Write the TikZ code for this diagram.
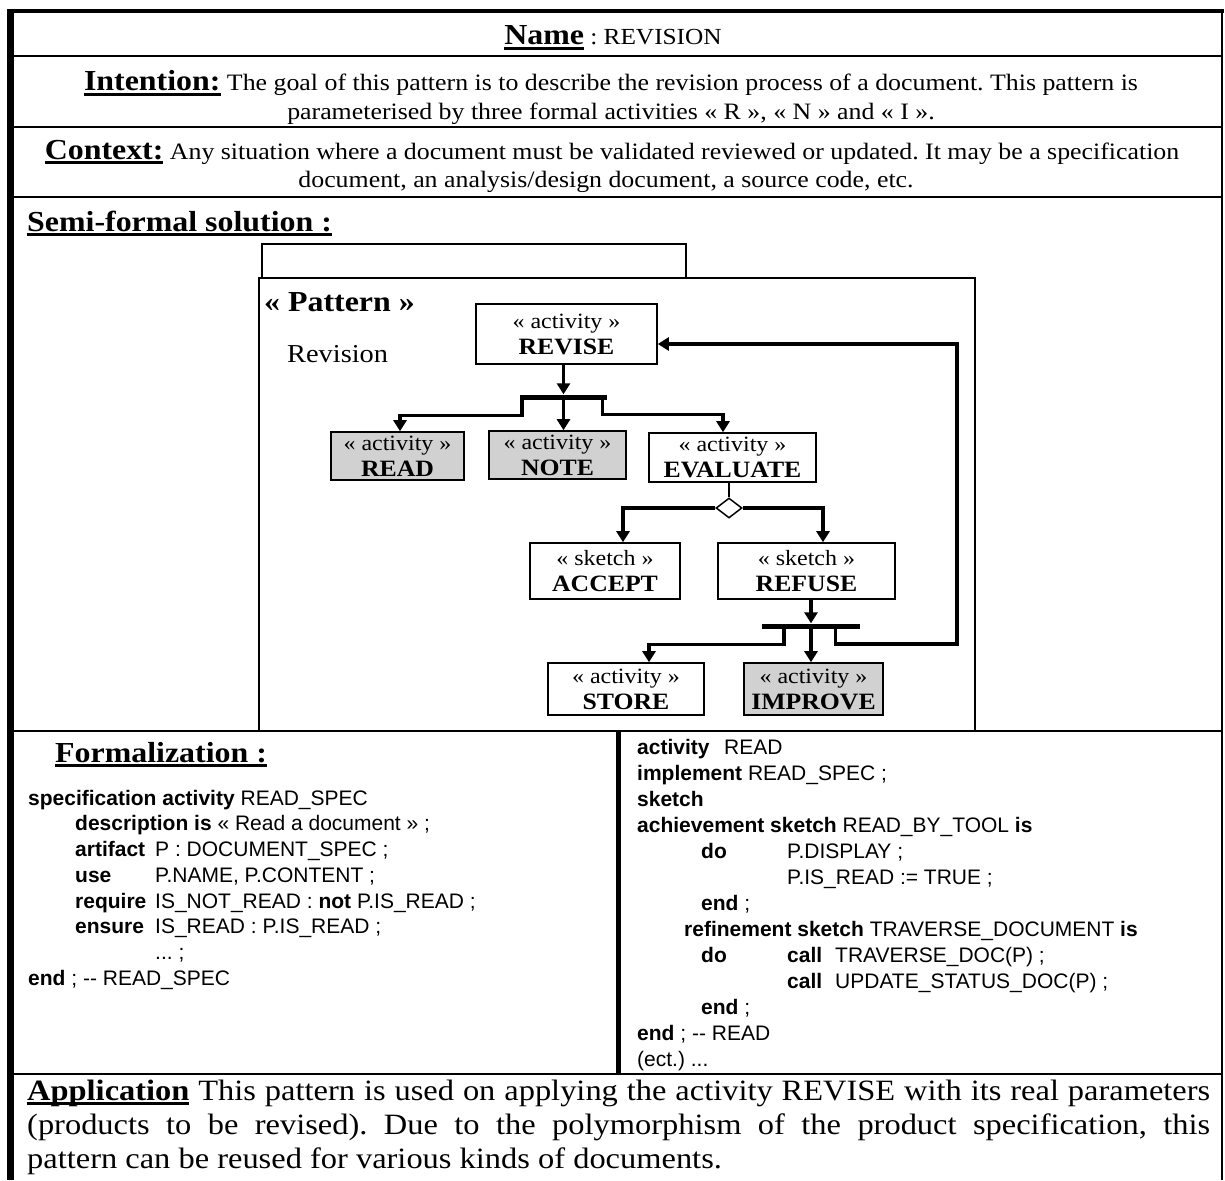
\documentclass[tikz,border=0pt]{standalone}
\usepackage{fontspec}
\setmainfont{Liberation Serif}[FakeStretch=1.1]
\newfontfamily\codefam{Liberation Sans}
\usetikzlibrary{arrows.meta,shapes.geometric}
\frenchspacing

% thick underline used for the section headings
\newcommand\headul[1]{\setbox0=\hbox{#1}\rlap{\rule[-5pt]{\wd0}{3pt}}\box0}
\newcommand\hdfont{\fontsize{29}{34}\selectfont\bfseries}
\newcommand\bdfont{\fontsize{23.5}{29}\selectfont}
\newcommand\apfont{\fontsize{29.5}{34}\selectfont}
\newcommand\cdfont{\codefam\fontsize{21}{26}\selectfont}
\newcommand\stfont{\fontsize{21.8}{26}\selectfont}
\newcommand\nmfont{\fontsize{23.4}{26}\selectfont\bfseries}

\tikzset{
  box/.style={draw, line width=1.6pt, inner sep=0pt, align=center, fill=white, font=\stfont},
  greybox/.style={box, fill=black!18},
  conn/.style={line width=3.4pt, -{Triangle[length=11pt,width=13pt]}},
  fbar/.style={fill=black, inner sep=0pt, minimum height=5pt},
  txt/.style={anchor=base west, inner sep=0pt},
  ctxt/.style={anchor=base, inner sep=0pt},
  code/.style={txt, font=\cdfont},
  sep/.style={line width=2pt},
}

\begin{document}
\begin{tikzpicture}[x=1pt,y=-1pt]
\useasboundingbox (0,0) rectangle (1225,1180);

% ---------- outer frame and row separators ----------
\draw[line width=7pt] (10.5,9.5) -- (10.5,1180);
\draw[line width=4pt] (7,11.5) -- (1223.5,11.5);
\draw[line width=2pt] (1222,10) -- (1222,1180);
\draw[sep] (10,56) -- (1222,56);
\draw[sep] (10,127) -- (1222,127);
\draw[sep] (10,197) -- (1222,197);
\draw[line width=2.6pt] (10,731) -- (1222,731);
\draw[sep] (10,1074) -- (1222,1074);
\draw[line width=5pt] (618,731) -- (618,1074);

% ---------- header rows ----------
\node[ctxt] (name) at (613,45) {{\hdfont\headul{Name}}{\fontsize{23}{28}\selectfont\ : REVISION}};
\node[ctxt] (int1) at (611,91) {{\hdfont\headul{Intention:}}{\bdfont\ The goal of this pattern is to describe the revision process of a document. This pattern is}};
\node[ctxt] (int2) at (611,120) {\bdfont parameterised by three formal activities « R », « N » and « I ».};
\node[ctxt] (ctx1) at (612,159) {{\hdfont\headul{Context:}}{\bdfont\ Any situation where a document must be validated reviewed or updated. It may be a specification}};
\node[ctxt] (ctx2) at (606,187) {\bdfont document, an analysis/design document, a source code, etc.};
\node[txt] (semi) at (27,231) {\hdfont\headul{Semi-formal solution :}};

% ---------- pattern package ----------
\draw[line width=1.6pt] (262,278) -- (262,244) -- (686,244) -- (686,278);
\draw[line width=1.8pt] (259,278) rectangle (975,731);
\node[txt] (ptitle) at (264,311) {\fontsize{29}{34}\selectfont\bfseries « Pattern »};
\node[txt] (pname) at (287,362) {\fontsize{25.8}{30}\selectfont Revision};

\node[box, minimum width=181pt, minimum height=60pt] (revise) at (566.5,334) {« activity »\\\nmfont REVISE};
\node[greybox, minimum width=133pt, minimum height=48pt] (read) at (397.5,456) {« activity »\\\nmfont READ};
\node[greybox, minimum width=137pt, minimum height=48pt] (note) at (557.5,455) {« activity »\\\nmfont NOTE};
\node[box, minimum width=167pt, minimum height=49pt] (evaluate) at (732.5,457.5) {« activity »\\\nmfont EVALUATE};
\node[box, minimum width=150pt, minimum height=56pt] (accept) at (605,571) {« sketch »\\\nmfont ACCEPT};
\node[box, minimum width=177pt, minimum height=56pt] (refuse) at (806.5,571) {« sketch »\\\nmfont REFUSE};
\node[box, minimum width=156pt, minimum height=52pt] (store) at (626,689) {« activity »\\\nmfont STORE};
\node[greybox, minimum width=139pt, minimum height=52pt] (improve) at (813.5,689) {« activity »\\\nmfont IMPROVE};

% fork bars and decision
\node[fbar, minimum width=87pt] (bar1) at (563.5,397) {};
\node[fbar, minimum width=98pt] (bar2) at (811,626) {};
\node[diamond, draw, line width=1.5pt, fill=white, inner sep=0pt,
      minimum width=26pt, minimum height=20pt] (dec) at (729,508) {};
\coordinate (ret) at (957,644);

% connectors
\draw[conn] (revise.south -| bar1) -- (bar1.north);
\draw[conn] ([xshift=2pt]bar1.south west) -- ++(0,16) -| ([xshift=2.5pt]read.north);
\draw[conn] (bar1.south) -- (bar1.south |- note.north);
\draw[conn] ([xshift=-5pt]bar1.south east) -- ++(0,15) -| ([xshift=-9.5pt]evaluate.north);
\draw[line width=1.6pt] (evaluate.south -| dec.north) -- (dec.north);
\draw[conn] (dec.west) -| ([xshift=18pt]accept.north);
\draw[conn] (dec.east) -| ([xshift=16.5pt]refuse.north);
\draw[conn] (refuse.south -| bar2) -- (bar2.north);
\draw[conn] ([xshift=22pt]bar2.south west) -- ++(0,16) -| ([xshift=23pt]store.north);
\draw[conn] (bar2.south) -- (bar2.south |- improve.north);
\draw[conn] ([xshift=-25pt]bar2.south east) |- (ret) |- ([yshift=-10pt]revise.east);

% ---------- formalization ----------
\node[txt] (ftitle) at (55,762) {\hdfont\headul{Formalization :}};

\node[code] (l1) at (28,805) {\textbf{specification activity} READ\_SPEC};
\node[code] (l2) at (75,830) {\textbf{description is} « Read a document » ;};
\node[code] (l3) at (75,856) {\makebox[80pt][l]{\textbf{artifact}}P : DOCUMENT\_SPEC ;};
\node[code] (l4) at (75,882) {\makebox[80pt][l]{\textbf{use}}P.NAME, P.CONTENT ;};
\node[code] (l5) at (75,908) {\makebox[80pt][l]{\textbf{require}}IS\_NOT\_READ : \textbf{not} P.IS\_READ ;};
\node[code] (l6) at (75,933) {\makebox[80pt][l]{\textbf{ensure}}IS\_READ : P.IS\_READ ;};
\node[code] (l7) at (155,959) {... ;};
\node[code] (l8) at (28,985) {\textbf{end} ; -{}- READ\_SPEC};

\node[code] (r1) at (637,754) {\makebox[87pt][l]{\textbf{activity}}READ};
\node[code] (r2) at (637,780) {\textbf{implement} READ\_SPEC ;};
\node[code] (r3) at (637,806) {\textbf{sketch}};
\node[code] (r4) at (637,832) {\textbf{achievement sketch} READ\_BY\_TOOL \textbf{is}};
\node[code] (r5) at (701,858) {\makebox[86pt][l]{\textbf{do}}P.DISPLAY ;};
\node[code] (r6) at (787,884) {P.IS\_READ := TRUE ;};
\node[code] (r7) at (701,910) {\textbf{end} ;};
\node[code] (r8) at (684,936) {\textbf{refinement sketch} TRAVERSE\_DOCUMENT \textbf{is}};
\node[code] (r9) at (701,962) {\makebox[86pt][l]{\textbf{do}}\makebox[48pt][l]{\textbf{call}}TRAVERSE\_DOC(P) ;};
\node[code] (r10) at (787,988) {\makebox[48pt][l]{\textbf{call}}UPDATE\_STATUS\_DOC(P) ;};
\node[code] (r11) at (701,1014) {\textbf{end} ;};
\node[code] (r12) at (637,1040) {\textbf{end} ; -{}- READ};
\node[code] (r13) at (637,1066) {(ect.) ...};

% ---------- application ----------
\node[txt] (app1) at (27,1100) {\apfont\makebox[1183pt][s]{{\bfseries\headul{Application}} This pattern is used on applying the activity REVISE with its real parameters}};
\node[txt] (app2) at (27,1134) {\apfont\makebox[1183pt][s]{(products to be revised). Due to the polymorphism of the product specification, this}};
\node[txt] (app3) at (27,1168) {\apfont pattern can be reused for various kinds of documents.};
\end{tikzpicture}
\end{document}
